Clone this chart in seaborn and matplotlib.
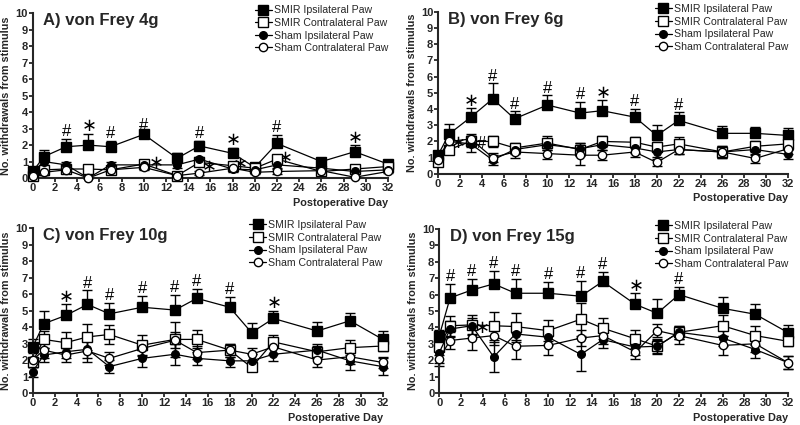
import numpy as np
import matplotlib
matplotlib.use("Agg")
import matplotlib.pyplot as plt
import seaborn as sns

# postoperative days measured
days = [0, 1, 3, 5, 7, 10, 13, 15, 18, 20, 22, 26, 29, 32]

# A) von Frey 4g
a_smir_ipsi = [0.4, 1.3, 1.9, 2.0, 1.9, 2.65, 1.2, 1.95, 1.5, 0.65, 2.1, 1.0, 1.6, 0.85]
a_smir_ipsi_err = [0.1, 0.4, 0.45, 0.7, 0.35, 0.1, 0.3, 0.3, 0.35, 0.1, 0.5, 0.15, 0.4, 0.1]
a_smir_contra = [0.15, 0.5, 0.55, 0.55, 0.5, 0.85, 0.15, 0.95, 0.75, 0.6, 1.15, 0.4, 0.55, 0.7]
a_smir_contra_err = [0.1, 0.15, 0.15, 0.15, 0.15, 0.1, 0.1, 0.2, 0.2, 0.1, 0.2, 0.1, 0.15, 0.1]
a_sham_ipsi = [0.35, 1.0, 0.8, 0.0, 0.8, 0.8, 0.8, 1.15, 0.55, 0.5, 0.8, 0.6, 0.4, 0.5]
a_sham_ipsi_err = [0.1, 0.2, 0.15, 0.0, 0.15, 0.15, 0.2, 0.15, 0.2, 0.1, 0.2, 0.15, 0.1, 0.1]
a_sham_contra = [0.15, 0.35, 0.5, 0.0, 0.5, 0.65, 0.15, 0.3, 0.6, 0.35, 0.4, 0.45, 0.05, 0.4]
a_sham_contra_err = [0.1, 0.15, 0.15, 0.0, 0.15, 0.15, 0.1, 0.1, 0.15, 0.1, 0.15, 0.1, 0.05, 0.1]

# B) von Frey 6g
b_smir_ipsi = [1.15, 2.45, 3.5, 4.63, 3.4, 4.25, 3.75, 3.9, 3.5, 2.37, 3.3, 2.5, 2.5, 2.37]
b_smir_ipsi_err = [0.2, 0.6, 0.55, 0.95, 0.45, 0.6, 0.68, 0.65, 0.5, 0.63, 0.5, 0.45, 0.4, 0.47]
b_smir_contra = [0.7, 1.5, 2.0, 2.0, 1.6, 1.9, 1.5, 2.0, 1.95, 1.65, 1.85, 1.35, 1.7, 1.85]
b_smir_contra_err = [0.2, 0.25, 0.35, 0.35, 0.3, 0.45, 0.4, 0.35, 0.35, 0.3, 0.4, 0.35, 0.35, 0.3]
b_sham_ipsi = [1.0, 2.0, 1.85, 0.85, 1.5, 1.8, 1.55, 1.8, 1.6, 1.35, 1.5, 1.35, 1.5, 1.2]
b_sham_ipsi_err = [0.2, 0.3, 0.5, 0.3, 0.3, 0.35, 0.35, 0.3, 0.3, 0.3, 0.3, 0.3, 0.35, 0.3]
b_sham_contra = [0.85, 2.0, 2.15, 1.0, 1.35, 1.25, 1.15, 1.15, 1.35, 0.7, 1.5, 1.35, 0.95, 1.55]
b_sham_contra_err = [0.2, 0.3, 0.3, 0.3, 0.35, 0.35, 0.6, 0.3, 0.3, 0.2, 0.3, 0.35, 0.3, 0.3]

# C) von Frey 10g
c_smir_ipsi = [2.8, 4.2, 4.7, 5.37, 4.8, 5.2, 5.03, 5.74, 5.2, 3.66, 4.52, 3.76, 4.38, 3.25]
c_smir_ipsi_err = [0.5, 0.75, 0.7, 0.85, 0.67, 0.68, 0.9, 0.58, 0.6, 0.6, 0.48, 0.55, 0.5, 0.53]
c_smir_contra = [1.9, 3.25, 3.05, 3.4, 3.55, 2.9, 3.25, 3.25, 2.6, 1.55, 3.1, 2.5, 2.75, 2.85]
c_smir_contra_err = [0.3, 0.5, 0.65, 0.8, 0.55, 0.6, 1.05, 0.55, 0.4, 0.2, 0.4, 0.35, 0.45, 0.3]
c_sham_ipsi = [1.3, 2.3, 2.5, 2.65, 1.6, 2.1, 2.35, 2.1, 1.95, 1.95, 2.35, 2.6, 1.95, 1.6]
c_sham_ipsi_err = [0.3, 0.45, 0.4, 0.5, 0.4, 0.5, 0.65, 0.4, 0.4, 0.4, 0.4, 0.4, 0.55, 0.5]
c_sham_contra = [2.0, 2.6, 2.3, 2.55, 2.1, 2.7, 3.2, 2.45, 2.6, 2.35, 2.8, 2.0, 2.2, 1.85]
c_sham_contra_err = [0.4, 0.45, 0.45, 0.7, 0.4, 0.45, 0.5, 0.4, 0.4, 0.4, 0.45, 0.45, 0.45, 0.35]

# D) von Frey 15g
d_smir_ipsi = [3.47, 5.8, 6.28, 6.65, 6.08, 6.08, 5.9, 6.8, 5.4, 4.86, 6.0, 5.16, 4.8, 3.68]
d_smir_ipsi_err = [0.4, 0.85, 0.67, 0.8, 0.85, 0.67, 0.93, 0.56, 0.68, 0.85, 0.44, 0.67, 0.65, 0.47]
d_smir_contra = [2.8, 4.1, 4.15, 4.1, 4.05, 3.8, 4.5, 3.95, 3.3, 2.85, 3.7, 4.1, 3.5, 3.15]
d_smir_contra_err = [0.5, 0.6, 0.6, 0.85, 0.8, 0.65, 1.0, 0.65, 0.55, 0.45, 0.4, 0.65, 0.6, 0.3]
d_sham_ipsi = [2.45, 3.9, 4.1, 2.2, 3.6, 3.4, 2.35, 3.25, 2.8, 2.85, 3.7, 3.35, 2.65, 1.85]
d_sham_ipsi_err = [0.6, 0.5, 0.5, 0.9, 0.5, 0.5, 1.0, 0.5, 0.5, 0.4, 0.4, 0.5, 0.5, 0.4]
d_sham_contra = [2.1, 3.2, 3.35, 3.5, 2.85, 2.9, 3.35, 3.5, 2.5, 3.8, 3.5, 2.9, 3.0, 1.85]
d_sham_contra_err = [0.45, 0.5, 0.7, 0.6, 0.8, 0.6, 0.5, 0.5, 0.4, 0.4, 0.5, 0.6, 0.5, 0.4]

# significance marks over SMIR ipsilateral (day, symbol)
a_marks = [(3, "#"), (5, "*"), (7, "#"), (10, "#"), (15, "#"), (18, "*"), (22, "#"), (29, "*")]
b_marks = [(3, "*"), (5, "#"), (7, "#"), (10, "#"), (13, "#"), (15, "*"), (18, "#"), (22, "#")]
c_marks = [(3, "*"), (5, "#"), (7, "#"), (10, "#"), (13, "#"), (15, "#"), (18, "#"), (22, "*")]
d_marks = [(1, "#"), (3, "#"), (5, "#"), (7, "#"), (10, "#"), (13, "#"), (15, "#"), (18, "*"), (22, "#")]

# marks placed beside the lower curves (day, value, symbol)
a_side = [(11.0, 0.9, "*"), (15.8, 0.67, "*"), (18.6, 0.8, "*"), (22.7, 1.2, "*")]
b_side = [(1.75, 1.9, "*"), (4.0, 1.9, "#")]
c_side = []
d_side = [(3.9, 3.95, "*")]

labels = ["SMIR Ipsilateral Paw", "SMIR Contralateral Paw", "Sham Ipsilateral Paw", "Sham Contralateral Paw"]
markers = ["s", "s", "o", "o"]
faces = ["black", "white", "black", "white"]
msizes = [6.5, 6.5, 5.5, 6]

sns.set_style("ticks")
plt.rcParams["font.family"] = ["Liberation Sans", "DejaVu Sans"]
plt.rcParams["mathtext.fontset"] = "dejavusans"

fig = plt.figure(figsize=(8, 4.25), dpi=100)


def draw_symbol(ax, x, y, sym, ha="center"):
    if sym == "#":
        ax.text(x, y, sym, fontsize=12, ha=ha, va="center", color="black")
    else:
        ax.text(x, y, r"$\ast$", fontsize=13, ha=ha, va="center", color="black")


def draw_panel(rect, title, series, marks, side):
    ax = fig.add_axes(rect)
    for i, (vals, errs) in enumerate(series):
        if i == 0:
            yerr = [np.zeros(len(errs)), errs]
        else:
            yerr = errs
        ax.errorbar(days, vals, yerr=yerr, fmt="none", ecolor="black",
                    elinewidth=1.0, capsize=3.5, capthick=1.0, zorder=2, clip_on=False)
    for i, (vals, errs) in enumerate(series):
        sns.lineplot(x=days, y=vals, ax=ax, sort=False, color="black",
                     marker=markers[i], markersize=msizes[i],
                     markerfacecolor=faces[i], markeredgecolor="black",
                     markeredgewidth=1.0, linewidth=0.9, label=labels[i],
                     clip_on=False, zorder=3 + i)
    top = series[0]
    for d, sym in marks:
        k = days.index(d)
        y = top[0][k] + top[1][k]
        draw_symbol(ax, d, y + (0.45 if sym == "#" else 0.42), sym)
    for x, y, sym in side:
        draw_symbol(ax, x, y, sym)

    ax.set_xlim(0, 32)
    ax.set_ylim(0, 10)
    ax.set_xticks(range(0, 33, 2))
    ax.set_yticks(range(0, 11))
    sns.despine(ax=ax)
    for s in ["left", "bottom"]:
        ax.spines[s].set_linewidth(1.5)
    ax.tick_params(direction="out", length=3, width=1.3, labelsize=8, pad=0.5)
    for lab in ax.get_xticklabels() + ax.get_yticklabels():
        lab.set_fontweight("bold")
    ax.set_xlabel("")
    ax.set_ylabel("No. withdrawals from stimulus", fontsize=7.8, fontweight="bold", labelpad=3)
    ax.text(0.03, 0.955, title, transform=ax.transAxes, fontsize=12,
            fontweight="bold", ha="left", va="center")
    ax.text(1.0, -0.15, "Postoperative Day", transform=ax.transAxes, fontsize=7.8,
            fontweight="bold", ha="right", va="center")
    ax.legend(loc="upper right", bbox_to_anchor=(1.0, 1.048), frameon=False,
              fontsize=7.6, handlelength=1.6, handletextpad=0.2, labelspacing=0.25,
              borderaxespad=0.0, borderpad=0.0)
    return ax


draw_panel([0.041, 0.581, 0.444, 0.388], "A) von Frey 4g",
           [(a_smir_ipsi, a_smir_ipsi_err), (a_smir_contra, a_smir_contra_err),
            (a_sham_ipsi, a_sham_ipsi_err), (a_sham_contra, a_sham_contra_err)],
           a_marks, a_side)
draw_panel([0.5475, 0.591, 0.4375, 0.381], "B) von Frey 6g",
           [(b_smir_ipsi, b_smir_ipsi_err), (b_smir_contra, b_smir_contra_err),
            (b_sham_ipsi, b_sham_ipsi_err), (b_sham_contra, b_sham_contra_err)],
           b_marks, b_side)
draw_panel([0.041, 0.0753, 0.4375, 0.388], "C) von Frey 10g",
           [(c_smir_ipsi, c_smir_ipsi_err), (c_smir_contra, c_smir_contra_err),
            (c_sham_ipsi, c_sham_ipsi_err), (c_sham_contra, c_sham_contra_err)],
           c_marks, c_side)
draw_panel([0.549, 0.0753, 0.436, 0.386], "D) von Frey 15g",
           [(d_smir_ipsi, d_smir_ipsi_err), (d_smir_contra, d_smir_contra_err),
            (d_sham_ipsi, d_sham_ipsi_err), (d_sham_contra, d_sham_contra_err)],
           d_marks, d_side)

fig.savefig("out.png", dpi=100)
